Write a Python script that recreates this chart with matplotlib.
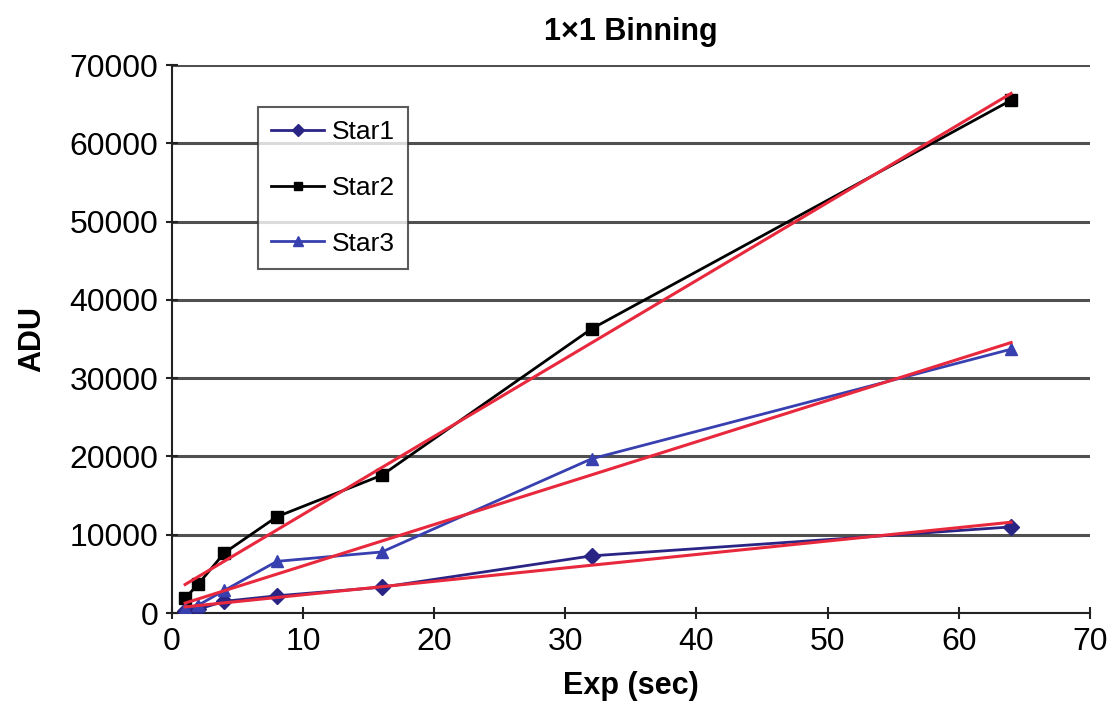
import numpy as np
import matplotlib.pyplot as plt

plt.rcParams['font.family'] = ['Liberation Sans', 'DejaVu Sans']

# exposure times (sec)
exp = [1, 2, 4, 8, 16, 32, 64]

# ADU readings for each star
star1 = [300, 500, 1500, 2200, 3300, 7300, 11000]
star2 = [1900, 3700, 7700, 12300, 17600, 36300, 65500]
star3 = [600, 1000, 2900, 6600, 7800, 19700, 33700]

fig = plt.figure(figsize=(11.2, 7.12), dpi=100)
ax = fig.add_axes([0.1536, 0.139, 0.8194, 0.7697])

ax.plot(exp, star1, '-D', color='#2a2585', ms=8, lw=2, label='Star1', zorder=3)
ax.plot(exp, star2, '-s', color='black', ms=8, lw=2, label='Star2', zorder=3)
ax.plot(exp, star3, '-^', color='#3840b0', ms=9, lw=2, label='Star3', zorder=3)

# linear trendlines
xs = np.array([exp[0], exp[-1]])
for s in [star1, star2, star3]:
    m, b = np.polyfit(exp, s, 1)
    ax.plot(xs, m * xs + b, color='#e8283c', lw=2.2, zorder=4)

ax.set_xlim(0, 70)
ax.set_ylim(0, 70000)
ax.set_xticks(range(0, 71, 10))
ax.set_yticks(range(0, 70001, 10000))
ax.yaxis.grid(True, color='#505050', lw=2.2)
ax.set_axisbelow(True)
for sp in ['top', 'right']:
    ax.spines[sp].set_visible(False)
ax.spines['left'].set_color('#222222')
ax.spines['bottom'].set_color('#222222')
ax.spines['left'].set_linewidth(1.5)
ax.spines['bottom'].set_linewidth(1.5)
ax.tick_params(labelsize=23, length=8, width=1.5, color='#222222',
               direction='inout', pad=6)

ax.set_xlabel('Exp (sec)', fontsize=22, fontweight='bold', labelpad=10)
ax.set_ylabel('ADU', fontsize=22, fontweight='bold', labelpad=16)
ax.set_title('1\u00d71 Binning', fontsize=22, fontweight='bold', pad=18)

leg = ax.legend(loc='upper left', bbox_to_anchor=(0.0937, 0.9234), fontsize=19,
                frameon=True, fancybox=False, edgecolor='#333333',
                borderpad=0.5, labelspacing=1.2, handlelength=2.0,
                handletextpad=0.3, borderaxespad=0, markerscale=0.8)
leg.get_frame().set_linewidth(1.5)

fig.savefig('out.png', dpi=100)
